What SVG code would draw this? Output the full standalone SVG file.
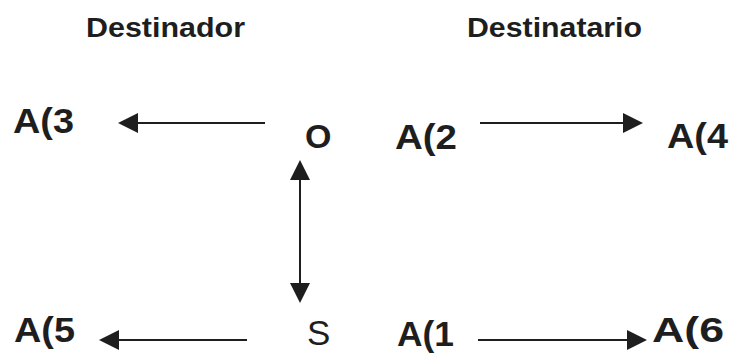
<svg xmlns="http://www.w3.org/2000/svg" width="737" height="354" viewBox="0 0 737 354">
<style>
  .t { font-family: "Liberation Sans", Arial, sans-serif; fill: #1e1e1e; }
  .b { font-weight: bold; }
  .c { stroke: #1e1e1e; stroke-width: 2; fill: none; }
</style>
<defs>
  <marker id="ah" markerUnits="userSpaceOnUse" markerWidth="20" markerHeight="20" viewBox="0 0 20 20" refX="18" refY="10" orient="auto-start-reverse">
    <path d="M0,0 L20,10 L0,20 z" fill="#1e1e1e"/>
  </marker>
</defs>
<rect width="737" height="354" fill="#ffffff"/>
<g id="title-destinador"><text class="t b" x="86" y="37" font-size="28" textLength="159" lengthAdjust="spacingAndGlyphs">Destinador</text></g>
<g id="title-destinatario"><text class="t b" x="467" y="37" font-size="28" textLength="175" lengthAdjust="spacingAndGlyphs">Destinatario</text></g>
<g id="node-A3"><text class="t b" x="13" y="133" font-size="35" textLength="61" lengthAdjust="spacingAndGlyphs">A(3</text></g>
<g id="node-O"><text class="t b" x="305" y="148" font-size="34">O</text></g>
<g id="node-A2"><text class="t b" x="395" y="149" font-size="35" textLength="62" lengthAdjust="spacingAndGlyphs">A(2</text></g>
<g id="node-A4"><text class="t b" x="667" y="148" font-size="35" textLength="61" lengthAdjust="spacingAndGlyphs">A(4</text></g>
<g id="node-A5"><text class="t b" x="14" y="342" font-size="35" textLength="61" lengthAdjust="spacingAndGlyphs">A(5</text></g>
<g id="node-S"><text class="t" x="307" y="345" font-size="35">S</text></g>
<g id="node-A1"><text class="t b" x="397" y="346" font-size="35" textLength="57" lengthAdjust="spacingAndGlyphs">A(1</text></g>
<g id="node-A6"><text class="t b" x="652" y="342" font-size="35" textLength="72" lengthAdjust="spacingAndGlyphs">A(6</text></g>
<g id="connectors">
  <line class="c" x1="265" y1="123" x2="120" y2="123" marker-end="url(#ah)"/>
  <line class="c" x1="480" y1="123" x2="641" y2="123" marker-end="url(#ah)"/>
  <line class="c" x1="300" y1="162" x2="300" y2="301" marker-start="url(#ah)" marker-end="url(#ah)"/>
  <line class="c" x1="247" y1="340" x2="101" y2="340" marker-end="url(#ah)"/>
  <line class="c" x1="478" y1="340" x2="645" y2="340" marker-end="url(#ah)"/>
</g>
</svg>
